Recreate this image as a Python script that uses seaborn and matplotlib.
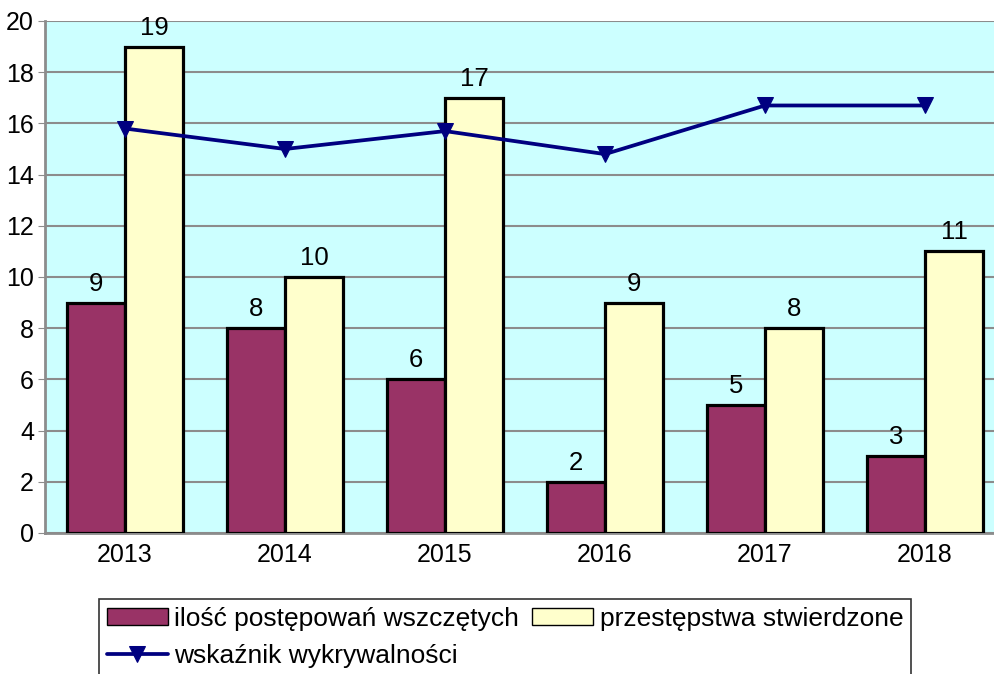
import numpy as np
import pandas as pd
import matplotlib
matplotlib.use("Agg")
import matplotlib.pyplot as plt
import seaborn as sns

years = ["2013", "2014", "2015", "2016", "2017", "2018"]
wszczete = [9, 8, 6, 2, 5, 3]
stwierdzone = [19, 10, 17, 9, 8, 11]
wskaznik = [15.8, 15.0, 15.7, 14.8, 16.7, 16.7]

lab_wsz = "ilość postępowań wszczętych"
lab_stw = "przestępstwa stwierdzone"
lab_wsk = "wskaźnik wykrywalności"

df = pd.DataFrame({
    "rok": years * 2,
    "liczba": wszczete + stwierdzone,
    "seria": [lab_wsz] * len(years) + [lab_stw] * len(years),
})

sns.set_style("white")
plt.rcParams["font.family"] = ["Liberation Sans", "DejaVu Sans"]
plt.rcParams["font.size"] = 18
plt.rcParams["text.color"] = "black"
plt.rcParams["xtick.color"] = "black"
plt.rcParams["ytick.color"] = "black"

fig = plt.figure(figsize=(9.95, 6.74), dpi=100)
ax = fig.add_axes([45 / 995, 1 - 533 / 674, 960 / 995, 512 / 674])
ax.set_facecolor("#CCFFFF")

sns.barplot(data=df, x="rok", y="liczba", hue="seria",
            palette=["#993366", "#FFFFCC"], width=0.725, gap=0,
            edgecolor="black", linewidth=2.3, saturation=1, ax=ax, zorder=3)

for cont in ax.containers:
    ax.bar_label(cont, padding=5, fontsize=18.5, color="black")

sns.lineplot(x=np.arange(len(years)), y=wskaznik, color="#000080",
             linewidth=2.7, marker="v", markersize=11, markeredgecolor="#000080",
             ax=ax, zorder=4, label=lab_wsk)

ax.set_ylim(0, 20)
ax.set_xlim(-0.5, len(years) - 0.5)
ax.set_yticks(range(0, 21, 2))
ax.yaxis.grid(True, color="#8c8c8c", linewidth=1.5, zorder=0)
ax.set_axisbelow(True)
ax.set_xlabel("")
ax.set_ylabel("")
ax.tick_params(axis="x", length=0, pad=7, labelsize=18, labelcolor="black")
ax.tick_params(axis="y", length=5, color="#8c8c8c", pad=3, labelsize=18,
               labelcolor="black", left=True)
for side in ["top", "right"]:
    ax.spines[side].set_visible(False)
for side in ["left", "bottom"]:
    ax.spines[side].set_color("#8c8c8c")
    ax.spines[side].set_linewidth(2)

h, l = ax.get_legend_handles_labels()
order = [l.index(lab_wsz), l.index(lab_wsk), l.index(lab_stw)]
leg = ax.legend([h[i] for i in order], [l[i] for i in order], ncol=2,
                loc="upper left", bbox_to_anchor=(99 / 995, 1 - 599 / 674),
                bbox_transform=fig.transFigure, frameon=True, fancybox=False,
                edgecolor="black", fontsize=19, handlelength=2.3,
                handleheight=0.6, handletextpad=0.25, columnspacing=0.5,
                labelspacing=0.5, borderpad=0.3, borderaxespad=0)
leg.get_frame().set_linewidth(1.2)
for t in leg.get_texts():
    t.set_color("black")
for p in leg.get_patches():
    p.set_linewidth(1)

fig.savefig("out.png", dpi=100)
